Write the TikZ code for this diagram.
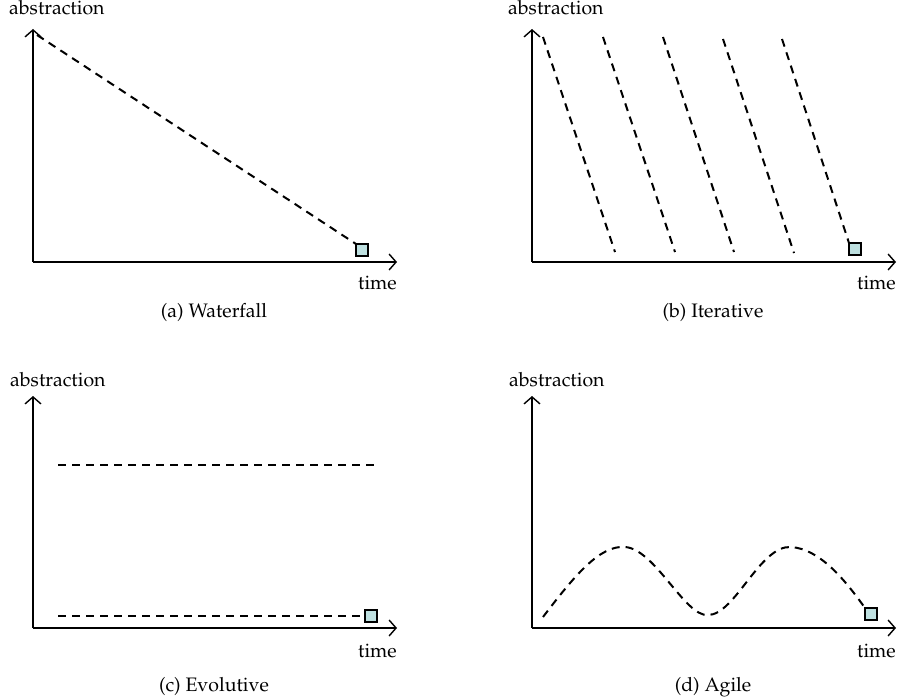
\documentclass[tikz,border=0pt]{standalone}
\IfFileExists{mathpazo.sty}{\usepackage[T1]{fontenc}\usepackage{mathpazo}}{\usepackage{fontspec}\setmainfont{Liberation Serif}}
\usetikzlibrary{arrows.meta}
\definecolor{sqfill}{RGB}{190,224,224}
\tikzset{
  axis/.style={line width=1.5pt,-{Straight Barb[length=7pt,width=16pt,line width=1.4pt]}},
  dline/.style={line width=2pt,dash pattern=on 8pt off 6pt},
  sq/.style={draw,line width=1.4pt,fill=sqfill,minimum size=12pt,inner sep=0pt,outer sep=0pt},
  lbl/.style={font=\fontsize{19.5}{22}\selectfont,inner sep=0pt},
}
\begin{document}
\begin{tikzpicture}[x=1pt,y=-1pt]
\useasboundingbox (0,0) rectangle (899,700);
% ---------- (a) Waterfall
\coordinate (ao) at (33,262);
\coordinate (ay) at (33,29);
\coordinate (ax) at (397,262);
\draw[axis] (ao) -- (ay);
\draw[axis] (ao) -- (ax);
\node[lbl,anchor=base west] (aabs) at (9,15) {abstraction};
\node[lbl,anchor=base west] (atime) at (358,290) {time};
\node[lbl,anchor=base] (acap) at (214,318) {(a) Waterfall};
\coordinate (as) at (37,35);
\node[sq] (asq) at (362,250) {};
\draw[dline] (as) -- (asq.north west);
\node[sq] at (asq) {};
% ---------- (b) Iterative
\coordinate (bo) at (532,262);
\coordinate (by) at (532,29);
\coordinate (bx) at (896,262);
\draw[axis] (bo) -- (by);
\draw[axis] (bo) -- (bx);
\node[lbl,anchor=base west] (babs) at (508,15) {abstraction};
\node[lbl,anchor=base west] (btime) at (857,290) {time};
\node[lbl,anchor=base] (bcap) at (713,318) {(b) Iterative};
\node[sq] (bsq) at (855,249) {};
\coordinate (b1s) at (543,37); \coordinate (b1e) at (615,252);
\coordinate (b2s) at (603,37); \coordinate (b2e) at (675,252);
\coordinate (b3s) at (663,37); \coordinate (b3e) at (734,252);
\coordinate (b4s) at (723,39); \coordinate (b4e) at (794,253);
\coordinate (b5s) at (782,39);
\draw[dline] (b1s) -- (b1e);
\draw[dline] (b2s) -- (b2e);
\draw[dline] (b3s) -- (b3e);
\draw[dline] (b4s) -- (b4e);
\draw[dline] (b5s) -- (bsq.north west);
\node[sq] at (bsq) {};
% ---------- (c) Evolutive
\coordinate (co) at (33,628);
\coordinate (cy) at (33,396);
\coordinate (cx) at (397,628);
\draw[axis] (co) -- (cy);
\draw[axis] (co) -- (cx);
\node[lbl,anchor=base west] (cabs) at (10,386) {abstraction};
\node[lbl,anchor=base west] (ctime) at (358,657) {time};
\node[lbl,anchor=base] (ccap) at (214,691) {(c) Evolutive};
\node[sq] (csq) at (371,616) {};
\coordinate (c1s) at (58,465); \coordinate (c1e) at (374,465);
\coordinate (c2s) at (58,616);
\draw[dline] (c1s) -- (c1e);
\draw[dline] (c2s) -- (csq.west);
\node[sq] at (csq) {};
% ---------- (d) Agile
\coordinate (do) at (532,628);
\coordinate (dy) at (532,396);
\coordinate (dx) at (896,628);
\draw[axis] (do) -- (dy);
\draw[axis] (do) -- (dx);
\node[lbl,anchor=base west] (dabs) at (509,386) {abstraction};
\node[lbl,anchor=base west] (dtime) at (857,657) {time};
\node[lbl,anchor=base] (dcap) at (713,691) {(d) Agile};
\node[sq] (dsq) at (871,614) {};
\coordinate (d0) at (543,617);
\coordinate (d1) at (625,547);
\coordinate (d2) at (708,615);
\coordinate (d3) at (791,547);
\draw[dline] (d0) .. controls (575,575) and (600,545) .. (d1)
  .. controls (655,549) and (685,617) .. (d2)
  .. controls (735,615) and (760,545) .. (d3)
  .. controls (820,549) and (845,580) .. (dsq.north west);
\node[sq] at (dsq) {};
\end{tikzpicture}
\end{document}
